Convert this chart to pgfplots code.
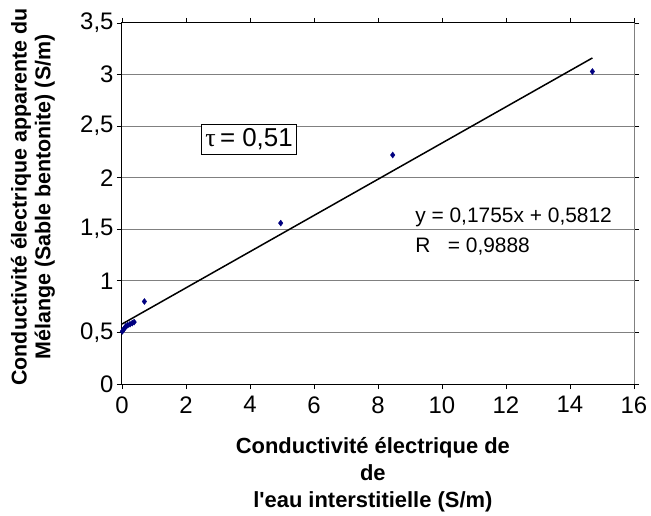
\documentclass[border=0pt]{standalone}
\usepackage{fontspec}
\setmainfont{Liberation Sans}
\newfontfamily\seriffont{Liberation Serif}
\usepackage{pgfplots}
\pgfplotsset{compat=1.18}
\definecolor{ptblue}{RGB}{0,0,128}
\begin{document}
\begin{tikzpicture}
\begin{axis}[
  scale only axis, width=512bp, height=361bp,
  xmin=0, xmax=16, ymin=0, ymax=3.5,
  xtick={0,2,...,16}, ytick={0,0.5,...,3.5},
  tick align=outside, major tick length=5bp,
  ymajorgrids, grid style={gray, line width=1bp},
  axis line style={black, line width=1bp},
  tick style={black, line width=0.8bp},
  /pgf/number format/use comma,
  /pgf/number format/assume math mode=true,
  ticklabel style={font=\fontsize{24}{28}\selectfont},
  xticklabel style={yshift=-4bp},
  xlabel={Conductivité électrique de\\de\\l\textquotesingle eau interstitielle (S/m)},
  xlabel style={font=\bfseries\fontsize{22}{27}\selectfont, align=center,
    at={(axis description cs:0.49,0)}, anchor=center, yshift=-91bp},
  ylabel={Conductivité électrique apparente du\\Mélange (Sable bentonite) (S/m)},
  ylabel style={font=\bfseries\fontsize{21.5}{24}\selectfont, align=center,
    at={(axis description cs:-0.174,0.518)}, anchor=center},
  clip=false,
]
\addplot[black, line width=1.5bp] coordinates {(0,0.5812) (14.7,3.161)};
\addplot[only marks, mark=diamond*, mark size=3bp, color=ptblue] coordinates {
  (0.01,0.51) (0.05,0.53) (0.08,0.54) (0.12,0.56) (0.18,0.57) (0.25,0.58)
  (0.32,0.59) (0.38,0.60) (0.70,0.80) (4.96,1.56) (8.46,2.22) (14.7,3.03)
};
\node[draw=black, line width=0.8bp, fill=white, inner xsep=4bp, inner ysep=4bp, anchor=center,
  font=\fontsize{26}{29}\selectfont] at (axis cs:3.97,2.37) {{\seriffont τ}\,= 0,51};
\node[anchor=west, font=\fontsize{21}{24}\selectfont, inner sep=0pt] at (axis cs:9.16,1.62) {y = 0,1755x + 0,5812};
\node[anchor=west, font=\fontsize{21}{24}\selectfont, inner sep=0pt] at (axis cs:9.16,1.33) {R\ \ \ = 0,9888};
\draw[gray, line width=1bp] (rel axis cs:1,0) -- (rel axis cs:1,1);
\end{axis}
\pgfresetboundingbox
\useasboundingbox (current axis.south west) ++(-122bp,-132bp) rectangle ++(651bp,516bp);
\end{tikzpicture}
\end{document}
